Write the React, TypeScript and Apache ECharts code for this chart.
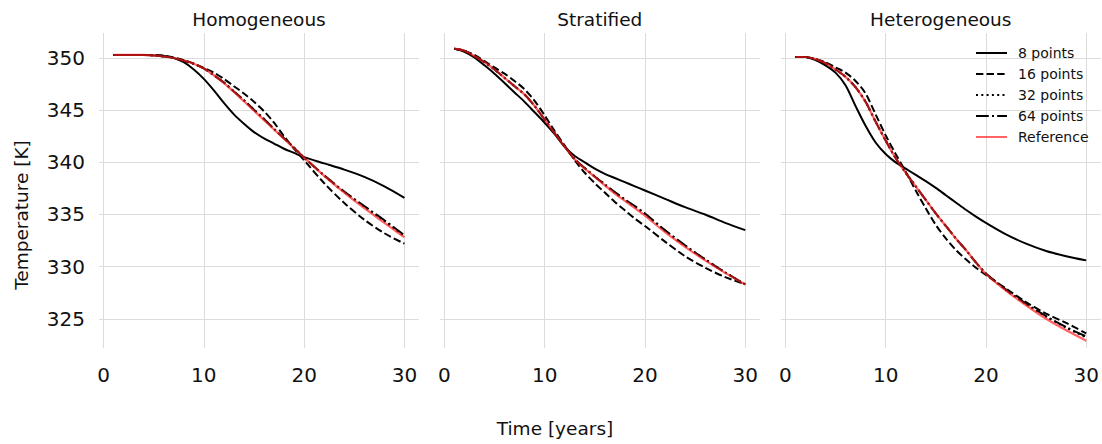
import React, { useEffect, useRef } from "react";
import * as echarts from "echarts";

// ---- data ----
const TIME = [1, 2, 3, 4, 5, 6, 7, 8, 9, 10, 11, 12, 13, 14, 15, 16, 17, 18, 19, 20, 22, 24, 26, 28, 30];

const PANEL_TITLES = ["Homogeneous", "Stratified", "Heterogeneous"];
const SERIES_NAMES = ["8 points", "16 points", "32 points", "64 points", "Reference"];

const HOM_8 = [350.3, 350.3, 350.3, 350.3, 350.25, 350.2, 350.0, 349.6, 348.9, 348.0, 346.9, 345.7, 344.6, 343.7, 342.9, 342.3, 341.8, 341.3, 340.9, 340.5, 339.9, 339.3, 338.6, 337.7, 336.6];
const HOM_16 = [350.3, 350.3, 350.3, 350.3, 350.3, 350.25, 350.05, 349.8, 349.45, 349.05, 348.6, 348.0, 347.3, 346.6, 345.8, 344.9, 343.8, 342.5, 341.3, 340.2, 338.0, 336.1, 334.5, 333.2, 332.2];
const HOM_32 = [350.3, 350.3, 350.3, 350.3, 350.25, 350.15, 350.0, 349.75, 349.45, 349.0, 348.35, 347.65, 346.8, 345.95, 345.05, 344.15, 343.2, 342.3, 341.4, 340.45, 338.72, 337.15, 335.75, 334.35, 332.9];
const HOM_64 = [350.3, 350.3, 350.3, 350.3, 350.25, 350.15, 350.0, 349.75, 349.45, 349.0, 348.35, 347.65, 346.8, 345.95, 345.05, 344.15, 343.2, 342.3, 341.4, 340.45, 338.75, 337.2, 335.8, 334.45, 333.0];
const HOM_REF = [350.3, 350.3, 350.3, 350.3, 350.25, 350.15, 350.0, 349.75, 349.45, 349.0, 348.35, 347.6, 346.75, 345.85, 344.95, 344.05, 343.15, 342.25, 341.35, 340.45, 338.7, 337.1, 335.6, 334.2, 332.8];

const STR_8 = [350.9, 350.6, 350.05, 349.3, 348.5, 347.6, 346.7, 345.8, 344.8, 343.8, 342.7, 341.5, 340.6, 340.0, 339.4, 338.9, 338.5, 338.1, 337.7, 337.3, 336.5, 335.7, 335.0, 334.2, 333.5];
const STR_16 = [350.9, 350.7, 350.3, 349.7, 349.1, 348.5, 347.8, 347.0, 345.9, 344.5, 343.0, 341.6, 340.2, 339.0, 338.0, 337.1, 336.2, 335.4, 334.6, 333.9, 332.4, 331.0, 329.9, 329.0, 328.3];
const STR_32 = [350.9, 350.7, 350.2, 349.6, 348.9, 348.1, 347.3, 346.5, 345.4, 344.1, 342.8, 341.5, 340.3, 339.45, 338.65, 337.85, 337.1, 336.4, 335.75, 335.05, 333.45, 332.0, 330.7, 329.45, 328.3];
const STR_64 = [350.9, 350.7, 350.2, 349.6, 348.9, 348.1, 347.3, 346.5, 345.4, 344.1, 342.8, 341.5, 340.3, 339.45, 338.65, 337.9, 337.15, 336.45, 335.8, 335.1, 333.5, 332.05, 330.7, 329.45, 328.3];
const STR_REF = [350.9, 350.7, 350.2, 349.6, 348.9, 348.1, 347.3, 346.5, 345.4, 344.1, 342.8, 341.5, 340.3, 339.4, 338.6, 337.8, 337.0, 336.3, 335.6, 334.9, 333.3, 331.9, 330.6, 329.4, 328.3];

const HET_8 = [350.1, 350.1, 349.8, 349.3, 348.6, 347.4, 345.4, 343.5, 341.9, 340.8, 340.0, 339.4, 338.8, 338.2, 337.55, 336.85, 336.15, 335.45, 334.8, 334.2, 333.1, 332.2, 331.5, 331.0, 330.6];
const HET_16 = [350.1, 350.1, 349.9, 349.6, 349.1, 348.6, 347.8, 346.6, 344.6, 342.6, 340.8, 339.1, 337.3, 335.6, 334.0, 332.7, 331.6, 330.7, 329.9, 329.2, 327.9, 326.6, 325.5, 324.6, 323.6];
const HET_32 = [350.1, 350.1, 349.9, 349.5, 348.9, 348.2, 347.2, 345.8, 343.9, 342.1, 340.4, 339.0, 337.7, 336.4, 335.1, 333.9, 332.7, 331.6, 330.4, 329.35, 327.75, 326.4, 325.2, 324.15, 323.2];
const HET_64 = [350.1, 350.1, 349.9, 349.5, 348.9, 348.2, 347.2, 345.8, 343.9, 342.1, 340.4, 339.0, 337.7, 336.4, 335.1, 333.9, 332.7, 331.6, 330.4, 329.35, 327.8, 326.45, 325.25, 324.2, 323.3];
const HET_REF = [350.1, 350.1, 349.9, 349.5, 348.9, 348.2, 347.2, 345.8, 343.9, 342.1, 340.4, 339.0, 337.7, 336.4, 335.1, 333.9, 332.7, 331.6, 330.4, 329.3, 327.7, 326.3, 325.0, 323.9, 322.9];

const PANEL_DATA = [
  [HOM_8, HOM_16, HOM_32, HOM_64, HOM_REF],
  [STR_8, STR_16, STR_32, STR_64, STR_REF],
  [HET_8, HET_16, HET_32, HET_64, HET_REF],
];

const X_MIN = -0.45;
const X_MAX = 31.45;
const Y_MIN = 322.2;
const Y_MAX = 352.4;

// ---- styles ----
const FONT = "DejaVu Sans";
const GRID_LEFTS = [99, 439.8, 780.8];
const GRID_WIDTH = 320;
const GRID_TOP = 33;
const GRID_HEIGHT = 315;
const GRID_COLOR = "#dcdcdc";
const LINE_STYLES: any[] = [
  { color: "#000", width: 2, type: "solid" },
  { color: "#000", width: 2, type: [7.4, 3.2] },
  { color: "#000", width: 2, type: [2, 3.3] },
  { color: "#000", width: 2, type: [12.8, 3.2, 2, 3.2] },
  { color: "rgba(255,25,25,0.68)", width: 2.2, type: "solid" },
];

export default function App() {
  const ref = useRef<HTMLDivElement>(null);

  useEffect(() => {
    if (!ref.current) return;
    const chart = echarts.init(ref.current, undefined, { renderer: "svg" });

    const grids = GRID_LEFTS.map((left) => ({
      left,
      top: GRID_TOP,
      width: GRID_WIDTH,
      height: GRID_HEIGHT,
    }));

    const xAxes = GRID_LEFTS.map((_, i) => ({
      type: "value",
      gridIndex: i,
      min: X_MIN,
      max: X_MAX,
      splitNumber: 3,
      axisLine: { show: false },
      axisTick: { show: false },
      axisLabel: {
        show: true,
        margin: 17,
        fontSize: 20,
        fontFamily: FONT,
        color: "#111",
        showMinLabel: false,
        showMaxLabel: false,
        formatter: (v: number) => (Math.abs(v % 10) < 1e-6 ? String(v) : ""),
      },
      splitLine: {
        show: true,
        showMinLine: false,
        showMaxLine: false,
        lineStyle: { color: GRID_COLOR, width: 1 },
      },
    }));

    const yAxes = GRID_LEFTS.map((_, i) => ({
      type: "value",
      gridIndex: i,
      min: Y_MIN,
      max: Y_MAX,
      splitNumber: 5,
      axisLine: { show: false },
      axisTick: { show: false },
      axisLabel: {
        show: i === 0,
        margin: 14,
        fontSize: 20,
        fontFamily: FONT,
        color: "#111",
        showMinLabel: false,
        showMaxLabel: false,
        formatter: (v: number) => (Math.abs(v % 5) < 1e-6 ? String(v) : ""),
      },
      splitLine: {
        show: true,
        showMinLine: false,
        showMaxLine: false,
        lineStyle: { color: GRID_COLOR, width: 1 },
      },
    }));

    const series: any[] = [];
    PANEL_DATA.forEach((panel, p) => {
      panel.forEach((vals, s) => {
        series.push({
          type: "line",
          name: SERIES_NAMES[s],
          xAxisIndex: p,
          yAxisIndex: p,
          data: TIME.map((t, k) => [t, vals[k]]),
          smooth: 0.3,
          symbol: "none",
          showSymbol: false,
          silent: true,
          z: s === 4 ? 5 : 2 + s * 0.1,
          lineStyle: LINE_STYLES[s],
          itemStyle: { color: LINE_STYLES[s].color },
          emphasis: { disabled: true },
        });
      });
    });

    const titleCenters = GRID_LEFTS.map((l) => l + GRID_WIDTH / 2);
    const textStyle = (text: string, size: number) => ({
      text,
      fontSize: size,
      fontFamily: FONT,
      fill: "#111",
      align: "center",
      verticalAlign: "middle",
    });

    const graphic: any[] = [
      ...PANEL_TITLES.map((t, i) => ({
        type: "text",
        x: titleCenters[i],
        y: 19,
        style: textStyle(t, 18.5),
      })),
      { type: "text", x: 555, y: 428, style: textStyle("Time [years]", 18.5) },
      {
        type: "text",
        x: 21,
        y: 215,
        rotation: Math.PI / 2,
        style: textStyle("Temperature [K]", 18.5),
      },
    ];

    chart.setOption({
      animation: false,
      backgroundColor: "#fff",
      grid: grids,
      xAxis: xAxes,
      yAxis: yAxes,
      legend: {
        data: SERIES_NAMES,
        orient: "vertical",
        left: 975,
        top: 46,
        padding: 0,
        itemWidth: 31,
        itemHeight: 14,
        itemGap: 7,
        selectedMode: false,
        itemStyle: { opacity: 0 },
        textStyle: { fontSize: 14, fontFamily: FONT, color: "#111", padding: [0, 0, 0, 6] },
      },
      graphic,
      series,
    });

    return () => chart.dispose();
  }, []);

  return (
    <div
      ref={ref}
      style={{ position: "absolute", left: 0, top: 0, width: 1102, height: 444 }}
    />
  );
}
